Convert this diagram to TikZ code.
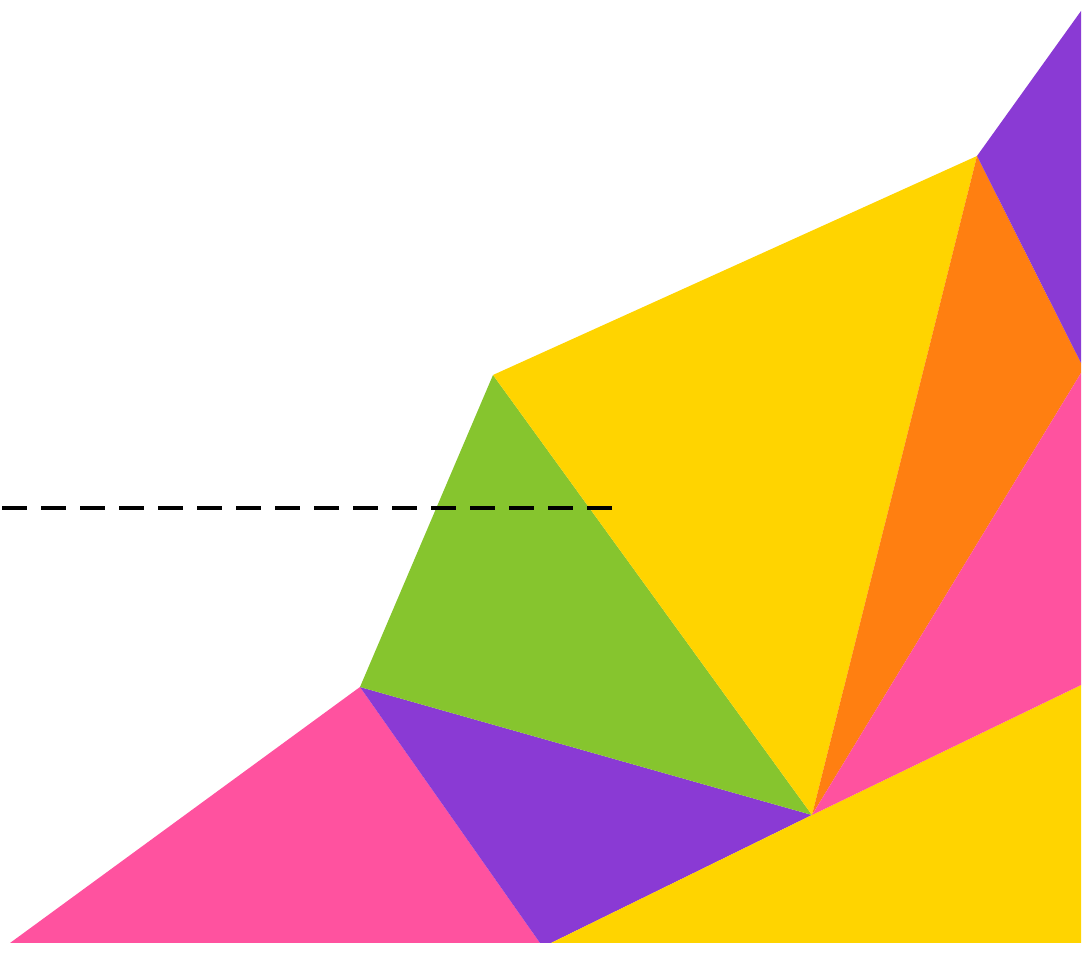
\documentclass[tikz,border=0pt]{standalone}
\usepackage{xcolor}
\usepackage{tikz}
\usetikzlibrary{calc}

\definecolor{pPink}{HTML}{FF529F}
\definecolor{pPurple}{HTML}{8A3AD4}
\definecolor{pGreen}{HTML}{86C52E}
\definecolor{pYellow}{HTML}{FFD400}
\definecolor{pOrange}{HTML}{FF7F11}

\begin{document}
\begin{tikzpicture}[
  piece/.style={line join=round},
  cutline/.style={draw=black, line width=1.2pt, dash pattern=on 7.1pt off 4pt}
]
\useasboundingbox (0,0) rectangle (10.83,9.56);
% corners of the pieces
\coordinate (apex) at (4.93,5.81);
\coordinate (ridge) at (9.77,8.00);
\coordinate (peak) at (10.81,9.45);
\coordinate (edgeA) at (10.81,5.93);
\coordinate (edgeB) at (10.81,5.83);
\coordinate (hub) at (8.12,1.41);
\coordinate (knee) at (3.60,2.69);
\coordinate (edgeC) at (10.81,2.71);
\coordinate (baseL) at (0.10,0.13);
\coordinate (baseP) at (5.40,0.13);
\coordinate (baseY) at (5.51,0.13);
\coordinate (baseR) at (10.81,0.13);

\fill[piece, pPink] (baseL) -- (knee) -- (baseP) -- cycle;
\fill[piece, pPurple] (knee) -- (hub) -- (baseY) -- (baseP) -- cycle;
\fill[piece, pYellow] (baseY) -- (hub) -- (edgeC) -- (baseR) -- cycle;
\fill[piece, pGreen] (apex) -- (knee) -- (hub) -- cycle;
\fill[piece, pYellow] (apex) -- (ridge) -- (hub) -- cycle;
\fill[piece, pOrange] (ridge) -- (edgeA) -- (edgeB) -- (hub) -- cycle;
\fill[piece, pPink] (hub) -- (edgeB) -- (edgeC) -- cycle;
\fill[piece, pPurple] (ridge) -- (peak) -- (edgeA) -- cycle;

% dashed cut
\coordinate (cutR) at (6.12,4.48);
\coordinate (cutL) at (0,4.48);
\draw[cutline] (cutR) -- (cutL);
\end{tikzpicture}
\end{document}
